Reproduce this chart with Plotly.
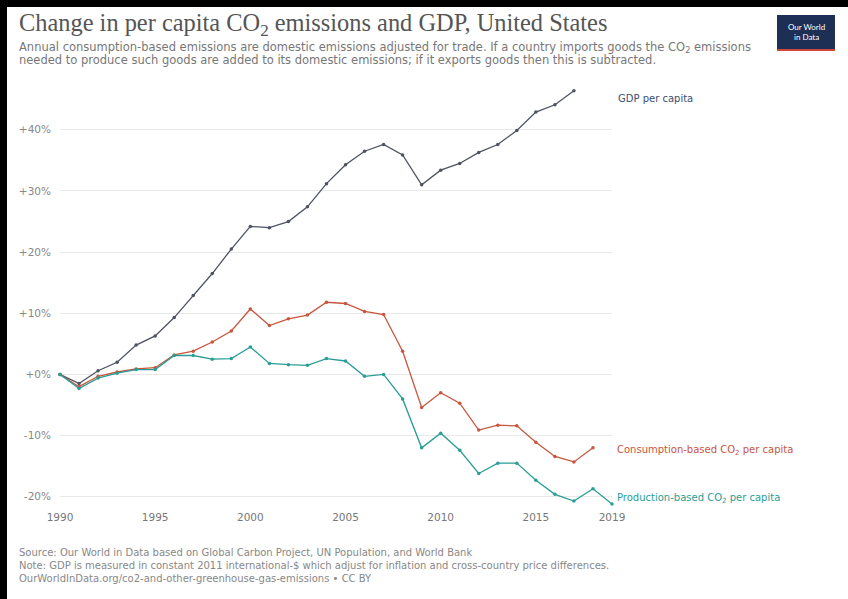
import plotly.graph_objects as go

years_gdp = list(range(1990, 2018))
gdp = [0, -1.5, 0.6, 2.0, 4.8, 6.3, 9.3, 12.9, 16.5, 20.5, 24.2, 24.0, 25.0, 27.4,
       31.2, 34.3, 36.5, 37.6, 35.9, 31.0, 33.4, 34.5, 36.3, 37.6, 39.9, 42.9, 44.1, 46.4]

years_cons = list(range(1990, 2019))
consumption = [0, -2.0, -0.3, 0.4, 0.9, 1.1, 3.2, 3.8, 5.3, 7.1, 10.7, 8.0, 9.1, 9.7,
               11.8, 11.6, 10.3, 9.8, 3.8, -5.4, -3.0, -4.7, -9.1, -8.3, -8.4, -11.1,
               -13.4, -14.3, -12.0]

years_prod = list(range(1990, 2020))
production = [0, -2.3, -0.6, 0.2, 0.8, 0.8, 3.1, 3.1, 2.5, 2.6, 4.5, 1.8, 1.6, 1.5,
              2.6, 2.2, -0.3, 0.0, -4.0, -12.0, -9.6, -12.4, -16.2, -14.5, -14.5,
              -17.3, -19.6, -20.7, -18.7, -21.2]

y_ticks = [-20, -10, 0, 10, 20, 30, 40]
y_labels = ["-20%", "-10%", "+0%", "+10%", "+20%", "+30%", "+40%"]
x_ticks = [1990, 1995, 2000, 2005, 2010, 2015, 2019]
x_labels = ["1990", "1995", "2000", "2005", "2010", "2015", "2019"]

GDP_C = "#4d5361"
CONS_C = "#c8553d"
PROD_C = "#2a9d95"
SANS = "DejaVu Sans"

W, H = 848, 599
ML, MR, MT, MB = 60, 236, 87, 90
PW = W - ML - MR
PH = H - MT - MB


def X(px):
    return (px - ML) / PW


def Y(py):
    return (H - MB - py) / PH


fig = go.Figure()
for xs, ys, c, n in [(years_gdp, gdp, GDP_C, "GDP per capita"),
                     (years_cons, consumption, CONS_C, "Consumption-based CO₂ per capita"),
                     (years_prod, production, PROD_C, "Production-based CO₂ per capita")]:
    fig.add_trace(go.Scatter(x=xs, y=ys, mode="lines+markers", name=n,
                             line=dict(color=c, width=1.3),
                             marker=dict(size=3.5, color=c),
                             cliponaxis=False, showlegend=False))

fig.update_layout(
    width=W, height=H,
    margin=dict(l=ML, r=MR, t=MT, b=MB),
    paper_bgcolor="white", plot_bgcolor="white",
    font=dict(family=SANS, color="#666"),
    xaxis=dict(range=[1990, 2019], tickvals=x_ticks, ticktext=x_labels,
               showgrid=False, zeroline=False, showline=False,
               tickfont=dict(family=SANS, size=10.5, color="#777"), ticks=""),
    yaxis=dict(range=[-22, 47], tickvals=y_ticks, ticktext=y_labels,
               showgrid=True, gridcolor="#e8e8e8", gridwidth=1, zeroline=False,
               showline=False, tickfont=dict(family=SANS, size=10.5, color="#888"),
               ticks="", ticklabelstandoff=8),
)

shapes = [
    dict(type="rect", xref="paper", yref="paper", x0=X(0), x1=X(W), y0=Y(7), y1=Y(0),
         fillcolor="black", line=dict(width=0), layer="above"),
    dict(type="rect", xref="paper", yref="paper", x0=X(0), x1=X(7), y0=Y(H), y1=Y(0),
         fillcolor="black", line=dict(width=0), layer="above"),
    dict(type="rect", xref="paper", yref="paper", x0=X(777), x1=X(835), y0=Y(49), y1=Y(15),
         fillcolor="#1d2f55", line=dict(width=0), layer="above"),
    dict(type="rect", xref="paper", yref="paper", x0=X(777), x1=X(835), y0=Y(51), y1=Y(49),
         fillcolor="#d0453a", line=dict(width=0), layer="above"),
]
fig.update_layout(shapes=shapes)

ann = [
    dict(text="Change in per capita CO<sub>2</sub> emissions and GDP, United States",
         x=X(17), y=Y(25), xanchor="left", yanchor="middle",
         font=dict(family="Liberation Serif", size=24.4, color="#555")),
    dict(text="Annual consumption-based emissions are domestic emissions adjusted for trade. If a country imports goods the CO<sub>2</sub> emissions",
         x=X(17), y=Y(48), xanchor="left", yanchor="middle", align="left",
         font=dict(family=SANS, size=11.5, color="#777")),
    dict(text="needed to produce such goods are added to its domestic emissions; if it exports goods then this is subtracted.",
         x=X(17), y=Y(60), xanchor="left", yanchor="middle", align="left",
         font=dict(family=SANS, size=11.5, color="#777")),
    dict(text="Our World<br>in Data", x=X(806), y=Y(32), xanchor="center", yanchor="middle",
         font=dict(family="Lato", size=8, color="white")),
    dict(text="GDP per capita", x=X(616), y=Y(98), xanchor="left", yanchor="middle",
         font=dict(family=SANS, size=10, color="#3d4f73")),
    dict(text="Consumption-based CO<sub>2</sub> per capita", x=X(615), y=Y(450),
         xanchor="left", yanchor="middle", font=dict(family=SANS, size=10, color=CONS_C)),
    dict(text="Production-based CO<sub>2</sub> per capita", x=X(615), y=Y(498),
         xanchor="left", yanchor="middle", font=dict(family=SANS, size=10, color=PROD_C)),
    dict(text="Source: Our World in Data based on Global Carbon Project, UN Population, and World Bank<br>"
              "Note: GDP is measured in constant 2011 international-$ which adjust for inflation and cross-country price differences.<br>"
              "OurWorldInData.org/co2-and-other-greenhouse-gas-emissions • CC BY",
         x=X(17), y=Y(565), xanchor="left", yanchor="middle", align="left",
         font=dict(family=SANS, size=10, color="#888")),
]
for a in ann:
    a.update(xref="paper", yref="paper", showarrow=False)
fig.update_layout(annotations=ann)

fig.write_html("out.html")
